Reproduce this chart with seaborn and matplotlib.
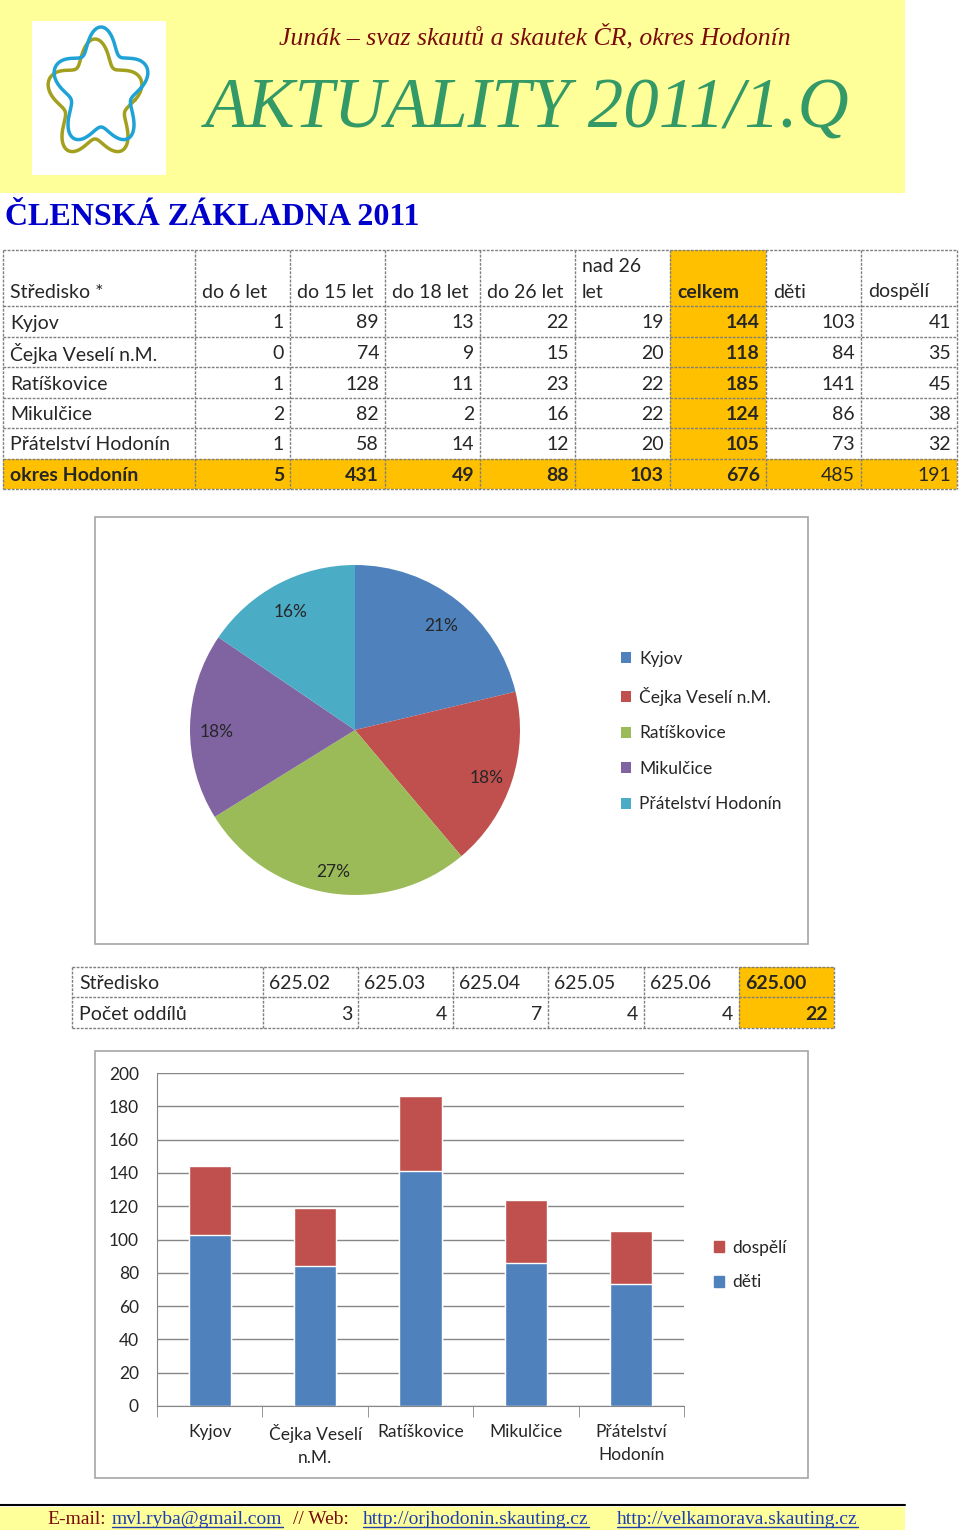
import textwrap
import numpy as np
import pandas as pd
import matplotlib
matplotlib.use("Agg")
import matplotlib.pyplot as plt
from matplotlib.patches import Rectangle, Patch
import seaborn as sns

# ---------------- data ----------------
stredisko = ["Kyjov", "Čejka Veselí n.M.", "Ratíškovice", "Mikulčice", "Přátelství Hodonín"]
do_6 = [1, 0, 1, 2, 1]
do_15 = [89, 74, 128, 82, 58]
do_18 = [13, 9, 11, 2, 14]
do_26 = [22, 15, 23, 16, 12]
nad_26 = [19, 20, 22, 22, 20]
celkem = [144, 118, 185, 124, 105]
deti = [103, 84, 141, 86, 73]
dospeli = [41, 35, 45, 38, 32]
okres_label = "okres Hodonín"
okres_totals = [5, 431, 49, 88, 103, 676, 485, 191]
table_headers = ["Středisko *", "do 6 let", "do 15 let", "do 18 let", "do 26 let",
                 "nad 26\nlet", "celkem", "děti", "dospělí"]

# pie values as charted (percent labels 21/18/27/18/16 %)
pie_values = [144, 119, 185, 124, 105]

kody_label = "Středisko"
kody = ["625.02", "625.03", "625.04", "625.05", "625.06", "625.00"]
oddily_label = "Počet oddílů"
pocet_oddilu = [3, 4, 7, 4, 4, 22]

pie_colors = ["#4F81BD", "#C0504D", "#9BBB59", "#8064A2", "#4BACC6"]
col_deti = "#4F81BD"
col_dospeli = "#C0504D"

# ---------------- layout ----------------
W, H = 960, 1538
sns.set_style("white")
FONT = ["Lato", "DejaVu Sans"]
plt.rcParams["font.family"] = FONT

fig = plt.figure(figsize=(W / 100, H / 100), dpi=100)
ax0 = fig.add_axes([0, 0, 1, 1])
ax0.set_xlim(0, W)
ax0.set_ylim(H, 0)
ax0.axis("off")


def px2fig(x0, y0, x1, y1):
    return [x0 / W, 1 - y1 / H, (x1 - x0) / W, (y1 - y0) / H]


YELLOW = "#FFFF99"
ORANGE = "#FFC000"
GRID = "#7F7F7F"

# header band
ax0.add_patch(Rectangle((0, 0), 905, 193, fc=YELLOW, ec="none"))
ax0.add_patch(Rectangle((32, 21), 134, 154, fc="white", ec="none"))
th = np.linspace(0, 2 * np.pi, 400)
rr = 1 + 0.22 * np.cos(5 * (th - np.pi / 2))
ax0.plot(95 + 40 * rr * np.cos(th), 100 - 50 * rr * np.sin(th), color="#A3A020", lw=2.5)
ax0.plot(101 + 40 * rr * np.cos(th), 88 - 50 * rr * np.sin(th), color="#1FA3D6", lw=2.5)

ax0.text(535, 37, "Junák – svaz skautů a skautek ČR, okres Hodonín", ha="center", va="center",
         fontsize=18.5, style="italic", color="#7B0A0A", family="Liberation Serif")
ax0.text(527, 110, "AKTUALITY 2011/1.Q", ha="center", va="center",
         fontsize=51, style="italic", color="#339966", family="Liberation Serif")
ax0.text(5, 225, "ČLENSKÁ ZÁKLADNA 2011", ha="left", va="baseline",
         fontsize=23, weight="bold", color="#0000CC", family="Liberation Serif")

# ---------------- table 1 ----------------
TFS = 14
col_edges = [3, 195, 290, 385, 480, 575, 670, 766, 861, 957]
row_edges = [250, 306, 337, 367, 398, 428, 459, 489]
ax0.add_patch(Rectangle((col_edges[6], row_edges[0]), col_edges[7] - col_edges[6],
                        row_edges[-1] - row_edges[0], fc=ORANGE, ec="none"))
ax0.add_patch(Rectangle((col_edges[0], row_edges[-2]), col_edges[-1] - col_edges[0],
                        row_edges[-1] - row_edges[-2], fc=ORANGE, ec="none"))
for y in row_edges:
    ax0.plot([col_edges[0], col_edges[-1]], [y, y], color=GRID, lw=1, ls=(0, (2, 1)))
for x in col_edges:
    ax0.plot([x, x], [row_edges[0], row_edges[-1]], color=GRID, lw=1, ls=(0, (2, 1)))

for j, h in enumerate(table_headers):
    lines = h.split("\n")
    for k, line in enumerate(reversed(lines)):
        ax0.text(col_edges[j] + 7, 292 - 26 * k, line, ha="left", va="center", fontsize=TFS,
                 weight="bold" if h == "celkem" else "normal")

cols = [do_6, do_15, do_18, do_26, nad_26, celkem, deti, dospeli]
for i, name in enumerate(stredisko):
    yc = (row_edges[i + 1] + row_edges[i + 2]) / 2 + 1.5
    ax0.text(col_edges[0] + 7, yc, name, ha="left", va="center", fontsize=TFS)
    for j, c in enumerate(cols):
        ax0.text(col_edges[j + 2] - 6, yc, str(c[i]), ha="right", va="center", fontsize=TFS,
                 weight="bold" if j == 5 else "normal")
yc = (row_edges[-2] + row_edges[-1]) / 2 + 1.5
ax0.text(col_edges[0] + 7, yc, okres_label, ha="left", va="center", fontsize=TFS, weight="bold")
for j, v in enumerate(okres_totals):
    ax0.text(col_edges[j + 2] - 6, yc, str(v), ha="right", va="center", fontsize=TFS,
             weight="bold" if j < 6 else "normal")

# ---------------- pie chart ----------------
ax0.add_patch(Rectangle((95, 517), 713, 427, fill=False, ec="#A6A6A6", lw=1.2))
axp = fig.add_axes(px2fig(190, 565, 520, 895))
wedges, _, autotexts = axp.pie(pie_values, colors=pie_colors, startangle=90, counterclock=False,
                               autopct="%1.0f%%", pctdistance=0.84,
                               wedgeprops=dict(linewidth=0), textprops=dict(fontsize=12.5))
for t in autotexts:
    x, y = t.get_position()
    t.set_position((x, y - 0.03))
axp.set_xlim(-1, 1)
axp.set_ylim(-1, 1)
fig.legend(wedges, stredisko, loc="upper left", bbox_to_anchor=(621 / W, 1 - 651 / H),
           frameon=False, fontsize=12.5, handlelength=0.6, handleheight=0.6,
           handletextpad=0.45, labelspacing=1.13, borderpad=0, borderaxespad=0)

# ---------------- table 2 ----------------
col2 = [72, 263, 358, 453, 548, 644, 739, 834]
rows2 = [967, 997, 1028]
ax0.add_patch(Rectangle((col2[-2], rows2[0]), col2[-1] - col2[-2], rows2[-1] - rows2[0],
                        fc=ORANGE, ec="none"))
for y in rows2:
    ax0.plot([col2[0], col2[-1]], [y, y], color=GRID, lw=1, ls=(0, (2, 1)))
for x in col2:
    ax0.plot([x, x], [rows2[0], rows2[-1]], color=GRID, lw=1, ls=(0, (2, 1)))
y1 = (rows2[0] + rows2[1]) / 2 + 1.5
y2 = (rows2[1] + rows2[2]) / 2 + 1.5
ax0.text(col2[0] + 7, y1, kody_label, ha="left", va="center", fontsize=TFS)
ax0.text(col2[0] + 7, y2, oddily_label, ha="left", va="center", fontsize=TFS)
for j, (k, n) in enumerate(zip(kody, pocet_oddilu)):
    last = j == len(kody) - 1
    ax0.text(col2[j + 1] + 6, y1, k, ha="left", va="center", fontsize=TFS,
             weight="bold" if last else "normal")
    ax0.text(col2[j + 2] - 6, y2, str(n), ha="right", va="center", fontsize=TFS,
             weight="bold" if last else "normal")

# ---------------- stacked bar chart ----------------
ax0.add_patch(Rectangle((95, 1051), 713, 427, fill=False, ec="#A6A6A6", lw=1.2))
axb = fig.add_axes(px2fig(157, 1073, 684, 1406))
df = pd.DataFrame({"stredisko": stredisko, "deti": deti, "dospeli": dospeli})
df["soucet"] = df["deti"] + df["dospeli"]
axb.set_axisbelow(True)
sns.barplot(data=df, x="stredisko", y="soucet", color=col_dospeli, saturation=1,
            width=0.4, errorbar=None, ax=axb)
sns.barplot(data=df, x="stredisko", y="deti", color=col_deti, saturation=1,
            width=0.4, errorbar=None, ax=axb)
axb.set_xlim(-0.5, len(stredisko) - 0.5)
axb.set_ylim(0, 200)
axb.set_yticks(range(0, 201, 20))
axb.yaxis.grid(True, color="#868686", lw=1)
axb.xaxis.grid(False)
axb.set_xlabel("")
axb.set_ylabel("")
for s in ["top", "right"]:
    axb.spines[s].set_visible(False)
for s in ["left", "bottom"]:
    axb.spines[s].set_color("#868686")
axb.set_xticks(range(len(stredisko)))
axb.set_xticklabels([textwrap.fill(s, 12) for s in stredisko], fontsize=12.5, linespacing=1.55)
axb.set_xticks(np.arange(-0.5, len(stredisko)), minor=True)
axb.tick_params(axis="x", which="major", length=0, pad=13)
axb.tick_params(axis="x", which="minor", length=8, color="#868686", direction="out")
axb.tick_params(axis="y", length=5, color="#868686", direction="out", labelsize=12.5, pad=8)
axb.tick_params(axis="x", which="both", bottom=True)
fig.legend(handles=[Patch(color=col_dospeli, label="dospělí"), Patch(color=col_deti, label="děti")],
           loc="upper left", bbox_to_anchor=(714 / W, 1 - 1240 / H), frameon=False, fontsize=12.5,
           handlelength=0.6, handleheight=0.6, handletextpad=0.45, labelspacing=1.05,
           borderpad=0, borderaxespad=0)

# ---------------- footer ----------------
ax0.plot([0, 905], [1505, 1505], color="black", lw=1.5)
ax0.add_patch(Rectangle((0, 1507), 905, 23, fc=YELLOW, ec="none"))
FFS = 14
pieces = [(47, "E-mail:", "#7B0A0A", False),
          (112, "mvl.ryba@gmail.com", "#1F3FAF", True),
          (293, "// Web:", "#7B0A0A", False),
          (363, "http://orjhodonin.skauting.cz", "#1F3FAF", True),
          (617, "http://velkamorava.skauting.cz", "#1F3FAF", True)]
texts = []
for x, s, c, ul in pieces:
    t = ax0.text(x, 1524, s, ha="left", va="baseline", fontsize=FFS, color=c,
                 family="Liberation Serif")
    texts.append((t, ul))
fig.canvas.draw()
r = fig.canvas.get_renderer()
inv = ax0.transData.inverted()
for t, ul in texts:
    if ul:
        bb = t.get_window_extent(r)
        (xa, _), (xb, _) = inv.transform([[bb.x0, bb.y0], [bb.x1, bb.y0]])
        ax0.plot([xa, xb], [1527, 1527], color="#1F3FAF", lw=1)

fig.savefig("out.png", dpi=100, facecolor="white")
